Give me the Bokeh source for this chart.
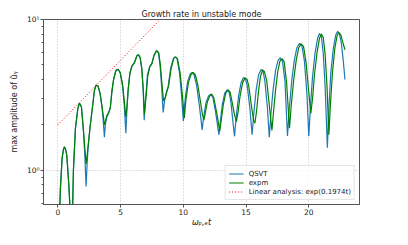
from bokeh.plotting import figure
from bokeh.models import Legend, LegendItem, FixedTicker
from bokeh.embed import file_html
from bokeh.resources import INLINE

# ---- data ----
t_qsvt = [0.0, 0.1, 0.2, 0.34, 0.45, 0.53, 0.62, 0.71, 0.87, 0.95, 1.05, 1.15, 1.24, 1.4, 1.59, 1.72,
          1.88, 2.04, 2.15, 2.25, 2.33, 2.41, 2.57, 2.73, 2.91, 3.04, 3.2, 3.36, 3.52, 3.62, 3.71, 3.78,
          3.9, 4.05, 4.18, 4.3, 4.44, 4.63, 4.8, 4.97, 5.16, 5.29, 5.42, 5.5, 5.6, 5.74, 5.9, 6.09, 6.3,
          6.42, 6.56, 6.69, 6.8, 6.88, 6.95, 7.01, 7.14, 7.33, 7.49, 7.67, 7.86, 8.02, 8.15, 8.28, 8.39,
          8.52, 8.65, 8.79, 9.0, 9.21, 9.35, 9.5, 9.7, 9.85, 10.0, 10.15, 10.35, 10.55, 10.7, 10.85, 11.05,
          11.25, 11.4, 11.5, 11.6, 11.8, 12.0, 12.17, 12.35, 12.55, 12.7, 12.83, 12.95, 13.1, 13.3, 13.5,
          13.65, 13.8, 13.95, 14.08, 14.2, 14.4, 14.6, 14.8, 14.95, 15.1, 15.3, 15.48, 15.6, 15.8, 16.0,
          16.2, 16.35, 16.5, 16.7, 16.85, 16.97, 17.15, 17.35, 17.55, 17.72, 17.9, 18.1, 18.3, 18.45,
          18.65, 18.85, 19.05, 19.26, 19.45, 19.65, 19.85, 20.0, 20.15, 20.3, 20.5, 20.7, 20.85, 21.0,
          21.15, 21.3, 21.48, 21.6, 21.75, 21.95, 22.15, 22.3, 22.45, 22.6, 22.75, 22.88]
amp_qsvt = [0.15, 0.4, 0.75, 1.21, 1.38, 1.43, 1.37, 1.26, 0.81, 0.6, 0.3, 0.45, 1.0, 1.9, 2.56, 2.79,
            2.63, 1.8, 1.25, 0.78, 1.1, 1.41, 1.95, 2.5, 3.37, 3.67, 3.62, 3.25, 2.6, 2.1, 1.66, 2.0,
            2.25, 2.4, 2.6, 3.3, 4.0, 4.6, 4.68, 4.42, 3.6, 2.7, 1.76, 2.5, 3.4, 4.4, 4.9, 5.15, 5.75,
            5.85, 5.56, 4.66, 3.4, 2.15, 2.7, 3.1, 4.3, 4.9, 5.1, 5.8, 6.22, 5.98, 4.9, 3.5, 2.42,
            2.95, 3.3, 3.6, 4.8, 5.5, 5.65, 5.5, 4.4, 3.2, 2.12, 3.0, 3.9, 4.35, 4.46, 4.3, 3.7,
            2.8, 2.2, 1.85, 2.2, 2.8, 3.1, 3.2, 3.05, 2.5, 2.05, 1.72, 2.1, 2.7, 3.25, 3.41,
            3.3, 2.8, 2.1, 1.68, 2.2, 3.1, 3.8, 4.12, 4.05, 3.6, 2.6, 1.72, 2.3, 3.4, 4.3,
            4.66, 4.55, 3.9, 2.6, 1.66, 2.3, 3.4, 4.6, 5.35, 5.56, 5.3, 3.9, 1.69, 2.6,
            4.0, 5.4, 6.5, 6.95, 6.7, 5.3, 3.2, 1.68, 2.8, 4.2, 6.0, 7.5, 8.07, 7.7,
            6.0, 3.6, 1.41, 2.6, 4.4, 6.4, 7.9, 8.36, 8.0, 6.9, 5.3, 4.0]

t_expm = [0.0, 0.1, 0.2, 0.34, 0.45, 0.53, 0.62, 0.71, 0.87, 0.95, 1.05, 1.15, 1.24, 1.4, 1.59, 1.72,
          1.88, 2.04, 2.15, 2.25, 2.33, 2.41, 2.57, 2.73, 2.91, 3.04, 3.2, 3.36, 3.52, 3.62, 3.71, 3.78,
          3.9, 4.05, 4.18, 4.3, 4.44, 4.63, 4.8, 4.97, 5.16, 5.29, 5.42, 5.5, 5.6, 5.74, 5.9, 6.09, 6.3,
          6.42, 6.56, 6.69, 6.8, 6.9, 6.98, 7.05, 7.16, 7.33, 7.49, 7.67, 7.88, 8.04, 8.17, 8.3, 8.42,
          8.55, 8.68, 8.82, 9.02, 9.23, 9.38, 9.53, 9.73, 9.9, 10.08, 10.2, 10.4, 10.6, 10.78, 10.95,
          11.15, 11.35, 11.52, 11.64, 11.75, 11.92, 12.1, 12.25, 12.42, 12.62, 12.78, 12.9, 13.02, 13.18,
          13.38, 13.58, 13.73, 13.9, 14.07, 14.23, 14.35, 14.52, 14.72, 14.92, 15.07, 15.22, 15.42, 15.6,
          15.7, 15.82, 16.0, 16.15, 16.32, 16.47, 16.65, 16.85, 17.06, 17.18, 17.35, 17.52, 17.7, 17.86,
          18.03, 18.22, 18.46, 18.6, 18.8, 19.0, 19.2, 19.4, 19.58, 19.78, 19.98, 20.16, 20.3, 20.45,
          20.65, 20.85, 21.0, 21.15, 21.3, 21.45, 21.6, 21.72, 21.88, 22.07, 22.25, 22.4, 22.55, 22.72,
          22.88]
amp_expm = [0.15, 0.4, 0.75, 1.21, 1.38, 1.43, 1.37, 1.26, 0.81, 0.6, 0.3, 0.45, 1.0, 1.9, 2.56, 2.79,
            2.63, 1.85, 1.4, 1.1, 1.25, 1.45, 1.95, 2.5, 3.37, 3.67, 3.62, 3.25, 2.65, 2.3, 2.0, 2.1,
            2.3, 2.42, 2.6, 3.3, 4.0, 4.6, 4.68, 4.45, 3.7, 2.9, 2.25, 2.6, 3.4, 4.4, 4.9, 5.15, 5.75,
            5.85, 5.6, 4.75, 3.5, 2.35, 2.8, 3.2, 4.2, 4.85, 5.1, 5.8, 6.22, 6.0, 5.0, 3.7, 2.88,
            3.0, 3.3, 3.6, 4.7, 5.5, 5.65, 5.5, 4.5, 3.3, 2.22, 2.9, 3.8, 4.3, 4.46, 4.3,
            3.7, 2.9, 2.35, 2.15, 2.4, 2.85, 3.1, 3.2, 3.05, 2.5, 2.1, 1.81, 2.15, 2.7,
            3.25, 3.41, 3.3, 2.8, 2.35, 2.1, 2.4, 3.1, 3.8, 4.1, 4.02, 3.6, 2.7, 2.15,
            2.05, 2.4, 3.4, 4.2, 4.62, 4.5, 3.9, 2.7, 1.84, 2.4, 3.4, 4.5, 5.3, 5.5,
            5.25, 3.9, 1.9, 2.7, 4.0, 5.4, 6.5, 6.9, 6.6, 5.2, 3.4, 2.38, 3.0, 4.3,
            6.0, 7.5, 8.0, 7.6, 5.9, 3.6, 1.72, 2.7, 4.4, 6.4, 7.8, 8.2, 7.9, 7.0,
            6.3]

t_lin = [0.0, 8.153]
amp_lin = [2.0, 10.0]

labels = ["QSVT", "expm", "Linear analysis: exp(0.1974t)"]
x_ticks = [0, 5, 10, 15, 20]
y_ticks = [1, 10]
y_minor_ticks = [0.6, 0.7, 0.8, 0.9, 2, 3, 4, 5, 6, 7, 8, 9]
y_tick_labels = {1: "10⁰", 10: "10¹"}

FONT = "DejaVu Sans"

p = figure(width=392, height=229, y_axis_type="log",
           x_range=(-1.145, 24.04), y_range=(0.593, 10.0),
           output_backend="svg", toolbar_location=None,
           min_border_left=43, min_border_right=33, min_border_top=19, min_border_bottom=19)

p.title.text = "Growth rate in unstable mode"
p.title.align = "center"
p.title.text_font = FONT
p.title.text_font_style = "normal"
p.title.text_font_size = "8px"
p.title.text_color = "#222222"
p.title.standoff = 2

r1 = p.line(t_qsvt, amp_qsvt, line_color="#1f77b4", line_width=1.2)
r2 = p.line(t_expm, amp_expm, line_color="#008000", line_width=1.2)
r3 = p.line(t_lin, amp_lin, line_color="#ff0000", line_width=1.0, line_dash="1 2")

p.xaxis.ticker = FixedTicker(ticks=x_ticks)
p.yaxis.ticker = FixedTicker(ticks=y_ticks, minor_ticks=y_minor_ticks)
p.ygrid.ticker = FixedTicker(ticks=y_ticks)
p.yaxis.major_label_overrides = y_tick_labels

for ax in (p.xaxis[0], p.yaxis[0]):
    ax.axis_line_color = "#555555"
    ax.major_tick_line_color = "#555555"
    ax.minor_tick_line_color = "#555555"
    ax.major_tick_out = 3
    ax.major_tick_in = 0
    ax.minor_tick_out = 2
    ax.minor_tick_in = 0
    ax.major_label_text_font = FONT
    ax.major_label_text_font_size = "7.5px"
    ax.major_label_text_color = "#222222"
    ax.major_label_standoff = 1
    ax.axis_label_text_font = FONT
    ax.axis_label_text_font_size = "8px"
    ax.axis_label_text_font_style = "normal"
    ax.axis_label_text_color = "#222222"
    ax.axis_label_standoff = 1
p.xaxis.minor_tick_line_color = None
p.xaxis.axis_label_standoff = 0
p.yaxis.axis_label_standoff = 5

p.xaxis.axis_label = "ωₚ,ₑt"
p.xaxis.axis_label_text_font_style = "italic"
p.yaxis.axis_label = "max amplitude of ũᵧ"

p.outline_line_color = "#555555"
p.outline_line_width = 1

p.xgrid.grid_line_color = "#b0b0b0"
p.xgrid.grid_line_dash = "1 2"
p.xgrid.grid_line_width = 0.8
p.ygrid.grid_line_color = "#b0b0b0"
p.ygrid.grid_line_dash = "1 2"
p.ygrid.grid_line_width = 0.8

legend = Legend(items=[LegendItem(label=labels[0], renderers=[r1]),
                       LegendItem(label=labels[1], renderers=[r2]),
                       LegendItem(label=labels[2], renderers=[r3])],
                location="bottom_right")
legend.label_text_font = FONT
legend.label_text_font_size = "7px"
legend.label_text_color = "#222222"
legend.label_height = 9
legend.glyph_height = 9
legend.glyph_width = 15
legend.label_standoff = 5
legend.spacing = 0
legend.padding = 3
legend.margin = 4
legend.border_line_color = "#cccccc"
legend.border_line_width = 1
legend.background_fill_alpha = 0.8
p.add_layout(legend)

open("out.html", "w").write(file_html(p, INLINE))
